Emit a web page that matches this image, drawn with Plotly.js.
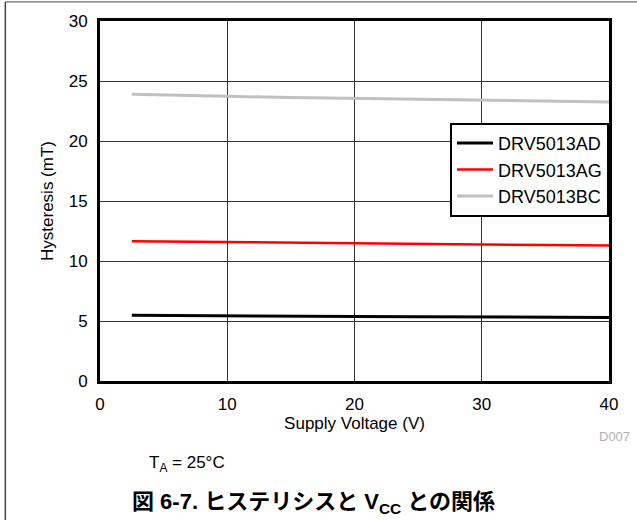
<!DOCTYPE html>
<html>
<head>
<meta charset="utf-8">
<script src="https://cdn.plot.ly/plotly-3.0.1.min.js"></script>
<style>html,body{margin:0;padding:0;background:#fff;}#chart{width:637px;height:520px;}</style>
</head>
<body>
<div id="chart"></div>
<script>
// Supply voltage (V)
const voltage = [2.5, 5, 10, 15, 20, 25, 30, 35, 40];
// Hysteresis (mT)
const drv5013AD = [5.47, 5.45, 5.42, 5.40, 5.38, 5.36, 5.34, 5.32, 5.30];
const drv5013AG = [11.65, 11.62, 11.57, 11.52, 11.47, 11.42, 11.38, 11.34, 11.30];
const drv5013BC = [23.90, 23.82, 23.72, 23.62, 23.55, 23.47, 23.40, 23.33, 23.25];
const seriesNames = ['DRV5013AD', 'DRV5013AG', 'DRV5013BC'];
const xTicks = [0, 10, 20, 30, 40];
const yTicks = [0, 5, 10, 15, 20, 25, 30];

const FONT = 'Liberation Sans, Arial, Noto Sans CJK JP, sans-serif';

const traces = [
  {x: voltage, y: drv5013AD, name: seriesNames[0], mode: 'lines', line: {color: '#000000', width: 3}},
  {x: voltage, y: drv5013AG, name: seriesNames[1], mode: 'lines', line: {color: '#ff0000', width: 2.5}},
  {x: voltage, y: drv5013BC, name: seriesNames[2], mode: 'lines', line: {color: '#c0c0c0', width: 3}}
];

const layout = {
  width: 637, height: 520,
  margin: {l: 100, r: 28, t: 21, b: 139},
  paper_bgcolor: '#ffffff', plot_bgcolor: '#ffffff',
  font: {family: FONT, color: '#000', size: 17},
  showlegend: true,
  legend: {
    x: 1, xanchor: 'right', y: 0.717, yanchor: 'top',
    bgcolor: '#ffffff', bordercolor: '#000', borderwidth: 2,
    font: {family: FONT, size: 18, color: '#000'},
    itemwidth: 36,
    tracegroupgap: 0
  },
  xaxis: {
    range: [0, 40], tickvals: xTicks, ticktext: xTicks.map(String),
    showgrid: true, gridcolor: '#333', gridwidth: 1,
    showline: true, linecolor: '#000', linewidth: 3, mirror: true,
    zeroline: false, ticks: '', ticklabelstandoff: 6,
    tickfont: {family: FONT, size: 17},
    title: {text: 'Supply Voltage (V)', font: {family: FONT, size: 17}, standoff: 2}
  },
  yaxis: {
    range: [0, 30], tickvals: yTicks, ticktext: yTicks.map(String),
    showgrid: true, gridcolor: '#333', gridwidth: 1,
    showline: true, linecolor: '#000', linewidth: 3, mirror: true,
    zeroline: false, ticks: '', ticklabelstandoff: 6,
    tickfont: {family: FONT, size: 17},
    title: {text: 'Hysteresis (mT)', font: {family: FONT, size: 17}, standoff: 11}
  },
  shapes: [
    {type: 'line', xref: 'paper', yref: 'paper', x0: -0.186, x1: -0.186, y0: 1.053, y1: -0.4, line: {color: '#444', width: 1.5}},
    {type: 'line', xref: 'paper', yref: 'paper', x0: -0.186, x1: 1.06, y0: 1.053, y1: 1.053, line: {color: '#444', width: 1}}
  ],
  annotations: [
    {xref: 'paper', yref: 'paper', x: 1.045, y: -0.155, xanchor: 'right', yanchor: 'middle', showarrow: false,
     text: 'D007', font: {family: FONT, size: 13, color: '#b0b0b0'}},
    {xref: 'paper', yref: 'paper', x: 0.092, y: -0.23, xanchor: 'left', yanchor: 'middle', showarrow: false,
     text: 'T<sub>A</sub> = 25°C', font: {family: FONT, size: 17, color: '#000'}},
    {xref: 'paper', yref: 'paper', x: 0.42, y: -0.338, xanchor: 'center', yanchor: 'middle', showarrow: false,
     text: '<b>図 6-7. ヒステリシスと V<sub>CC</sub> との関係</b>', font: {family: FONT, size: 22, color: '#000'}}
  ]
};

Plotly.newPlot('chart', traces, layout, {displayModeBar: false, staticPlot: true});
</script>
</body>
</html>
